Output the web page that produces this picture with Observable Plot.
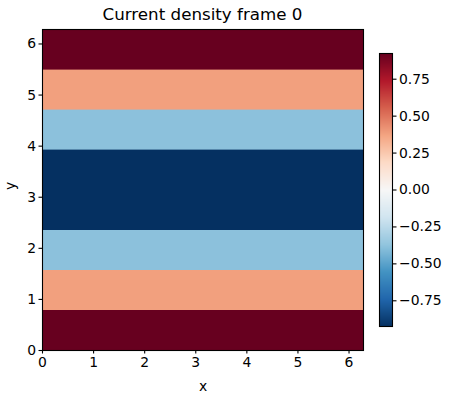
<!DOCTYPE html>
<html>
<head>
<meta charset="utf-8">
<script src="https://cdn.jsdelivr.net/npm/d3@7"></script>
<script src="https://cdn.jsdelivr.net/npm/@observablehq/plot@0.6"></script>
<style>
  html, body { margin: 0; padding: 0; background: white; }
  #wrap { position: relative; width: 450px; height: 400px; font-family: "DejaVu Sans", sans-serif; }
  #wrap > svg, #wrap > div { position: absolute; left: 0; top: 0; }
  #title { width: 405px; text-align: center; font-size: 16.7px; top: 4px !important; color: black; }
</style>
</head>
<body>
<div id="wrap"><div id="title">Current density frame 0</div></div>
<script>
// ---- data ----
const title = "Current density frame 0";
const xMin = 0, xMax = 6.2832;
const rowY1 = [0, 0.7854, 1.5708, 2.3562, 3.1416, 3.9270, 4.7124, 5.4978];
const rowY2 = [0.7854, 1.5708, 2.3562, 3.1416, 3.9270, 4.7124, 5.4978, 6.2832];
const rowValue = [0.924, 0.383, -0.383, -0.924, -0.924, -0.383, 0.383, 0.924];
const axisTicks = [0, 1, 2, 3, 4, 5, 6];
const cbarTicks = [-0.75, -0.5, -0.25, 0, 0.25, 0.5, 0.75];
const rdbuR = ["#053061","#2166ac","#4393c3","#92c5de","#d1e5f0","#f7f7f7","#fddbc7","#f4a582","#d6604d","#b2182b","#67001f"];

const rows = rowValue.map((v, i) => ({y1: rowY1[i], y2: rowY2[i], x1: xMin, x2: xMax, v}));
const vmin = d3.min(rowValue), vmax = d3.max(rowValue);
const color = {
  type: "linear",
  domain: d3.quantize(d3.interpolateNumber(vmin, vmax), rdbuR.length),
  range: rdbuR,
  interpolate: "rgb",
  clamp: true
};
const style = {fontFamily: "DejaVu Sans, sans-serif", fontSize: "13.9px", background: "transparent", color: "black", overflow: "visible"};

const main = Plot.plot({
  width: 450, height: 400,
  marginLeft: 42, marginRight: 87, marginTop: 29, marginBottom: 50,
  x: {domain: [xMin, xMax]},
  y: {domain: [xMin, xMax]},
  color,
  style,
  marks: [
    Plot.rect(rows, {x1: "x1", x2: "x2", y1: "y1", y2: "y2", fill: "v", stroke: "v", strokeWidth: 0.6, shapeRendering: "crispEdges"}),
    Plot.frame({stroke: "black", strokeWidth: 1.1}),
    Plot.axisX({ticks: axisTicks, tickSize: 3.5, tickPadding: 3, tickFormat: d3.format("d"), label: null, strokeWidth: 1.1}),
    Plot.axisY({ticks: axisTicks, tickSize: 3.5, tickPadding: 3, tickFormat: d3.format("d"), label: null, strokeWidth: 1.1}),
    Plot.text(["x"], {frameAnchor: "bottom", dy: 36, lineAnchor: "middle", fontSize: 13.9}),
    Plot.text(["y"], {frameAnchor: "left", dx: -32, rotate: -90, lineAnchor: "middle", fontSize: 13.9})
  ]
});

const cbar = Plot.plot({
  width: 450, height: 400,
  marginLeft: 379, marginRight: 58, marginTop: 53, marginBottom: 74,
  x: {domain: [0, 1], axis: null},
  y: {domain: [vmin, vmax]},
  color,
  style,
  marks: [
    Plot.raster({x1: 0, x2: 1, y1: vmin, y2: vmax, width: 1, height: 273, fill: (x, y) => y}),
    Plot.frame({stroke: "black", strokeWidth: 1.1}),
    Plot.axisY({anchor: "right", ticks: cbarTicks, tickSize: 3.5, tickPadding: 3, tickFormat: d3.format(".2f"), label: null, strokeWidth: 1.1})
  ]
});

const wrap = document.getElementById("wrap");
wrap.appendChild(main);
wrap.appendChild(cbar);
document.getElementById("title").textContent = title;
</script>
</body>
</html>
